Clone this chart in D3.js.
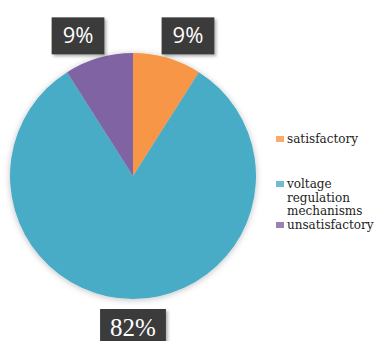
<!DOCTYPE html>
<html>
<head>
<meta charset="utf-8">
<script src="https://cdn.jsdelivr.net/npm/d3@7"></script>
<style>
  html, body { margin: 0; padding: 0; background: #fff; }
  svg { display: block; }
</style>
</head>
<body>
<div id="chart"></div>
<script>
// Slices, clockwise from 12 o'clock
const categories = ["satisfactory", "voltage regulation mechanisms", "unsatisfactory"];
const values = [9, 82, 9];
const labels = ["9%", "82%", "9%"];
const legendLines = [["satisfactory"], ["voltage", "regulation", "mechanisms"], ["unsatisfactory"]];
const colors = ["#f79646", "#4aacc6", "#8064a2"];

const W = 391, H = 341;
const cx = 133, cy = 176, R = 123;

const svg = d3.select("#chart").append("svg")
  .attr("width", W).attr("height", H);

const defs = svg.append("defs");
defs.append("filter").attr("id", "pieShadow")
  .attr("x", "-20%").attr("y", "-20%").attr("width", "140%").attr("height", "140%")
  .append("feDropShadow")
  .attr("dx", 0).attr("dy", 1).attr("stdDeviation", 3)
  .attr("flood-color", "#000").attr("flood-opacity", 0.25);
defs.append("filter").attr("id", "boxShadow")
  .attr("x", "-20%").attr("y", "-20%").attr("width", "150%").attr("height", "150%")
  .append("feDropShadow")
  .attr("dx", 2).attr("dy", 2).attr("stdDeviation", 1.5)
  .attr("flood-color", "#000").attr("flood-opacity", 0.3);

const pie = d3.pie().sort(null).value((d) => d)(values);
const arc = d3.arc().innerRadius(0).outerRadius(R);

const g = svg.append("g").attr("transform", `translate(${cx},${cy})`);

g.append("g").attr("filter", "url(#pieShadow)")
  .selectAll("path")
  .data(pie)
  .join("path")
  .attr("d", arc)
  .attr("fill", (d, i) => colors[i]);

// data labels in dark boxes, pushed a little away from the vertical axis
const labelR = 151;
const lab = g.append("g")
  .selectAll("g")
  .data(pie)
  .join("g")
  .attr("transform", (d) => {
    let a = (d.startAngle + d.endAngle) / 2;
    const s = Math.sin(a);
    if (Math.abs(s) > 0.01) a += Math.sign(s) * 0.09;
    return `translate(${Math.sin(a) * labelR},${-Math.cos(a) * labelR})`;
  });

lab.each(function (d, i) {
  const node = d3.select(this);
  const big = values[i] > 50;
  const rect = node.append("rect").attr("fill", "#3b3b3b").attr("filter", "url(#boxShadow)");
  const t = node.append("text")
    .attr("text-anchor", "middle")
    .attr("dy", "0.35em")
    .attr("fill", "#fff")
    .style("font-family", big ? "'Liberation Serif', serif" : "'Open Sans', sans-serif")
    .style("font-size", big ? "25px" : "22px")
    .text(labels[i]);
  const bb = t.node().getBBox();
  const padX = big ? 10 : 11;
  rect.attr("x", bb.x - padX).attr("y", -18)
    .attr("width", bb.width + padX * 2).attr("height", 37);
});

// legend
const legend = svg.append("g").attr("transform", "translate(276,0)");
const lineH = 13.5;
const legendY = [143, 188, 229];
legendLines.forEach((lines, i) => {
  const y0 = legendY[i];
  legend.append("rect")
    .attr("x", 0).attr("y", y0 - 7)
    .attr("width", 8).attr("height", 6)
    .attr("fill", colors[i]).attr("opacity", 0.8);
  const t = legend.append("text")
    .attr("x", 11).attr("y", y0)
    .attr("fill", "#222")
    .style("font-family", "'DejaVu Serif', serif")
    .style("font-size", "12px");
  lines.forEach((ln, j) => {
    t.append("tspan").attr("x", 11).attr("dy", j === 0 ? 0 : lineH).text(ln);
  });
});
</script>
</body>
</html>
